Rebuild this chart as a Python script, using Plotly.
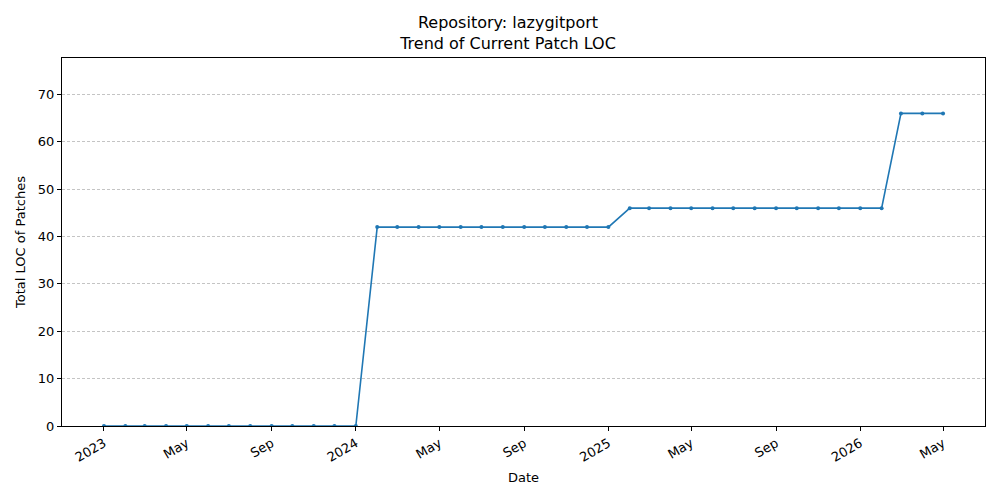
import pandas as pd
import plotly.graph_objects as go

dates = pd.date_range('2023-01-01', '2026-05-01', freq='MS')
loc = ([0] * 13      # Jan 2023 - Jan 2024
       + [42] * 12   # Feb 2024 - Jan 2025
       + [46] * 13   # Feb 2025 - Feb 2026
       + [66] * 3)   # Mar 2026 - May 2026

tick_vals = pd.to_datetime(['2023-01-01', '2023-05-01', '2023-09-01', '2024-01-01',
                            '2024-05-01', '2024-09-01', '2025-01-01', '2025-05-01',
                            '2025-09-01', '2026-01-01', '2026-05-01'])
tick_text = ['2023', 'May', 'Sep', '2024', 'May', 'Sep', '2025', 'May', 'Sep', '2026', 'May']

fig = go.Figure()
fig.add_trace(go.Scatter(x=dates, y=loc, mode='lines+markers',
                         line=dict(color='#1f77b4', width=1.6),
                         marker=dict(size=4, color='#1f77b4'),
                         cliponaxis=True, showlegend=False))

span = dates[-1] - dates[0]
pad = span * 0.05

# page has an 8px body margin, so margins are offset by it
fig.update_layout(
    width=1000, height=500,
    paper_bgcolor='white', plot_bgcolor='white',
    font=dict(family='DejaVu Sans', size=13, color='black'),
    margin=dict(l=54, r=23, t=50, b=82),
    title=dict(text='Repository: lazygitport<br>Trend of Current Patch LOC',
               x=0.5, xanchor='center', y=0.96, yanchor='middle', yref='container',
               font=dict(size=16)),
    xaxis=dict(range=[dates[0] - pad, dates[-1] + pad],
               tickvals=tick_vals, ticktext=tick_text, tickangle=-30,
               ticks='outside', ticklen=4, tickcolor='black',
               tickfont=dict(size=13),
               showline=True, linecolor='black', linewidth=1, mirror=True,
               showgrid=False, zeroline=False, automargin=False,
               title=dict(text='Date', standoff=9, font=dict(size=13))),
    yaxis=dict(range=[0, 77.7], tickvals=[0, 10, 20, 30, 40, 50, 60, 70],
               ticks='outside', ticklen=4, tickcolor='black',
               tickfont=dict(size=13),
               showline=True, linecolor='black', linewidth=1, mirror=True,
               showgrid=True, gridcolor='#c4c4c4', gridwidth=0.6, griddash='3px,2px',
               zeroline=False, automargin=False,
               title=dict(text='Total LOC of Patches', standoff=9, font=dict(size=13))),
)

fig.write_html('out.html')
